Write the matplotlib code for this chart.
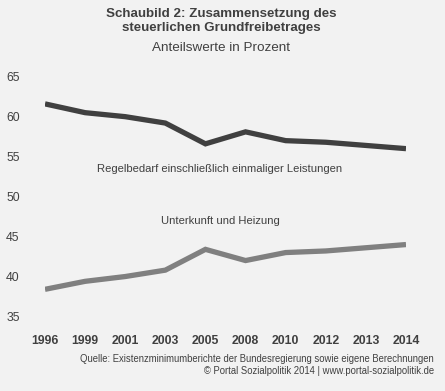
import matplotlib
matplotlib.use("Agg")
import matplotlib.pyplot as plt

plt.rcParams['font.family'] = ['Liberation Sans', 'DejaVu Sans']

years = ["1996", "1999", "2001", "2003", "2005", "2008", "2010", "2012", "2013", "2014"]
regelbedarf = [61.6, 60.5, 60.0, 59.2, 56.6, 58.1, 57.0, 56.8, 56.4, 56.0]
unterkunft = [38.4, 39.4, 40.0, 40.8, 43.4, 42.0, 43.0, 43.2, 43.6, 44.0]
yticks = [35, 40, 45, 50, 55, 60, 65]

BG = "#f2f2f2"
W, H = 445, 391
fig = plt.figure(figsize=(W / 100, H / 100), dpi=100, facecolor=BG)

# axes: x index 0 at px 45, index 9 at px 406; y 35 at px 316.5, 65 at px 76.7
left_px, right_px = 45, 406
top_px, bot_px = 76.7, 316.5
ax = fig.add_axes([left_px / W, 1 - bot_px / H, (right_px - left_px) / W, (bot_px - top_px) / H])
ax.set_facecolor(BG)
x = list(range(len(years)))
ax.plot(x, regelbedarf, color="#404040", lw=3.8, solid_capstyle="butt", solid_joinstyle="miter")
ax.plot(x, unterkunft, color="#808080", lw=3.8, solid_capstyle="butt", solid_joinstyle="miter")
ax.set_xlim(0, len(years) - 1)
ax.set_ylim(35, 65)
for s in ax.spines.values():
    s.set_visible(False)
ax.set_yticks(yticks)
ax.set_yticklabels([str(v) for v in yticks])
ax.tick_params(axis="y", length=0, pad=28, labelsize=8.8, labelcolor="#404040")
for lbl in ax.get_yticklabels():
    lbl.set_horizontalalignment("left")
ax.set_xticks(x)
ax.set_xticklabels(years, fontweight="bold")
ax.tick_params(axis="x", length=0, pad=13, labelsize=8.8, labelcolor="#404040")

ax.text(4.36, 53.45, "Regelbedarf einschließlich einmaliger Leistungen",
        ha="center", va="center", fontsize=8.1, color="#404040")
ax.text(4.37, 46.95, "Unterkunft und Heizung",
        ha="center", va="center", fontsize=8.1, color="#404040")

fig.text(221.5 / W, 1 - 21 / H, "Schaubild 2: Zusammensetzung des\nsteuerlichen Grundfreibetrages",
         ha="center", va="center", fontsize=9.6, fontweight="bold", color="#404040",
         linespacing=1.3)
fig.text(221.5 / W, 1 - 48 / H, "Anteilswerte in Prozent",
         ha="center", va="center", fontsize=9.7, color="#404040")
fig.text(434 / W, 1 - 358.5 / H,
         "Quelle: Existenzminimumberichte der Bundesregierung sowie eigene Berechnungen",
         ha="right", va="center", fontsize=6.85, color="#404040")
fig.text(434 / W, 1 - 371 / H, "© Portal Sozialpolitik 2014 | www.portal-sozialpolitik.de",
         ha="right", va="center", fontsize=6.85, color="#404040")

fig.savefig("out.png", dpi=100, facecolor=BG)
